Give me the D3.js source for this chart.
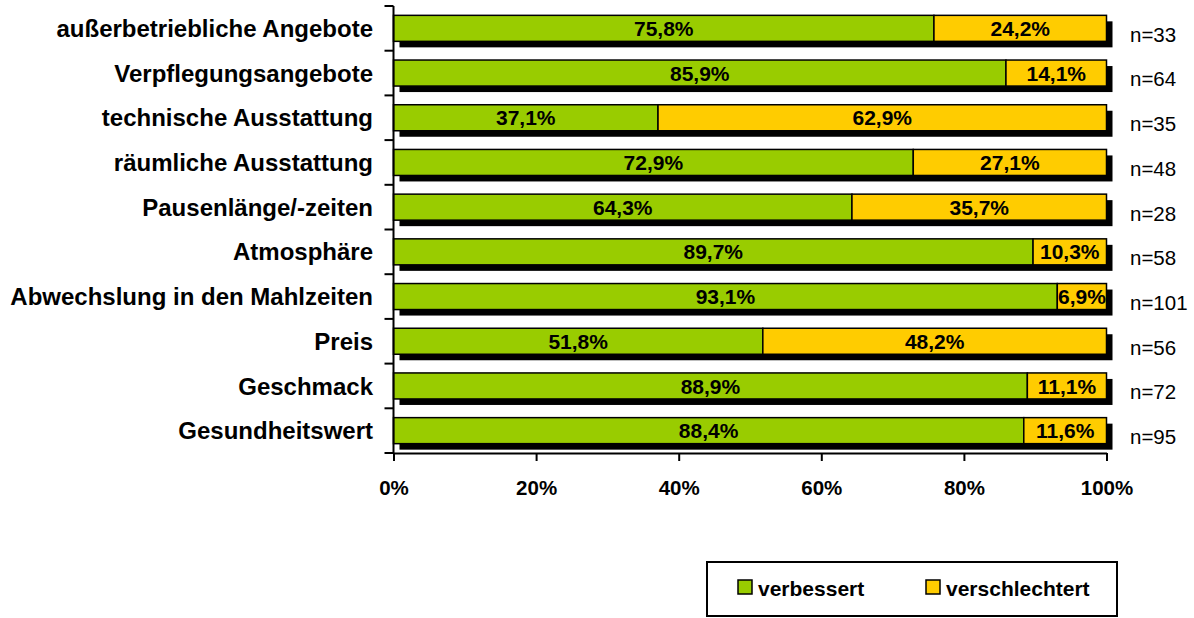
<!DOCTYPE html>
<html><head><meta charset="utf-8">
<script src="https://cdn.jsdelivr.net/npm/d3@7"></script>
<style>body{margin:0;background:#fff;} text{font-family:"Liberation Sans",Arial,sans-serif;}</style>
</head><body><svg id="c" width="1194" height="618"></svg>
<script>
const categories = ["außerbetriebliche Angebote","Verpflegungsangebote","technische Ausstattung","räumliche Ausstattung","Pausenlänge/-zeiten","Atmosphäre","Abwechslung in den Mahlzeiten","Preis","Geschmack","Gesundheitswert"];
const verbessert = [75.8,85.9,37.1,72.9,64.3,89.7,93.1,51.8,88.9,88.4];
const verschlechtert = [24.2,14.1,62.9,27.1,35.7,10.3,6.9,48.2,11.1,11.6];
const nValues = [33,64,35,48,28,58,101,56,72,95];
const xTicks = [0,20,40,60,80,100];
const seriesNames = ["verbessert","verschlechtert"];
const colors = ["#99CC00","#FFCC00"];

const svg = d3.select("#c");
const x = d3.scaleLinear().domain([0,100]).range([393.5,1106.5]);
const y = d3.scaleBand().domain(categories).range([6,453]).paddingInner(0.418).paddingOuter(0.209);
const fmt = v => v.toFixed(1).replace(".",",") + "%";

const g = svg.append("g");
g.selectAll("rect.sh").data(categories).join("rect")
  .attr("x", x(0)+6).attr("y", d=>y(d)+6)
  .attr("width", x(100)-x(0)).attr("height", y.bandwidth())
  .attr("fill","#000");
categories.forEach((c,i)=>{
  const segs = [[0,verbessert[i]],[verbessert[i],100]];
  segs.forEach((s,j)=>{
    g.append("rect").attr("x",x(s[0])).attr("y",y(c))
      .attr("width",x(s[1])-x(s[0])).attr("height",y.bandwidth())
      .attr("fill",colors[j]).attr("stroke","#000").attr("stroke-width",1.5);
  });
  const vals=[verbessert[i],verschlechtert[i]];
  segs.forEach((s,j)=>{
    g.append("text").attr("x",(x(s[0])+x(s[1]))/2).attr("y",y(c)+y.bandwidth()/2)
      .attr("dy","0.36em").attr("text-anchor","middle")
      .attr("font-size",21).attr("font-weight","bold").text(fmt(vals[j]));
  });
  g.append("text").attr("x",1130).attr("y",y(c)+y.bandwidth()/2+6).attr("dy","0.36em")
    .attr("font-size",20.5).text("n="+nValues[i]);
  g.append("text").attr("x",373).attr("y",y(c)+y.bandwidth()/2).attr("dy","0.36em")
    .attr("text-anchor","end").attr("font-size",24).attr("font-weight","bold").text(c);
});
g.append("line").attr("x1",x(0)).attr("x2",x(0)).attr("y1",6).attr("y2",453).attr("stroke","#000").attr("stroke-width",2);
const bounds = categories.map(c=>y(c)-y.step()*y.paddingInner()/2).concat([453]);
g.selectAll("line.yt").data(bounds).join("line")
  .attr("x1",x(0)-9).attr("x2",x(0)).attr("y1",d=>d).attr("y2",d=>d).attr("stroke","#000").attr("stroke-width",2);
const xa = svg.append("g").attr("transform","translate(0,453)")
  .call(d3.axisBottom(x).tickValues(xTicks).tickSize(8).tickSizeOuter(0).tickPadding(19).tickFormat(d=>d+"%"));
xa.select(".domain").attr("stroke-width",2);
xa.selectAll(".tick line").attr("stroke-width",2);
xa.selectAll("text").attr("font-size",20.5).attr("font-weight","bold").attr("font-family","Liberation Sans, Arial, sans-serif");
const lg = svg.append("g");
lg.append("rect").attr("x",707).attr("y",562).attr("width",410).attr("height",54).attr("fill","#fff").attr("stroke","#000").attr("stroke-width",2);
const lx=[738,926];
seriesNames.forEach((s,i)=>{
  lg.append("rect").attr("x",lx[i]).attr("y",580).attr("width",14).attr("height",14).attr("fill",colors[i]).attr("stroke","#000").attr("stroke-width",1.5);
  lg.append("text").attr("x",lx[i]+20).attr("y",588).attr("dy","0.36em").attr("font-size",21).attr("font-weight","bold").text(s);
});
</script></body></html>
